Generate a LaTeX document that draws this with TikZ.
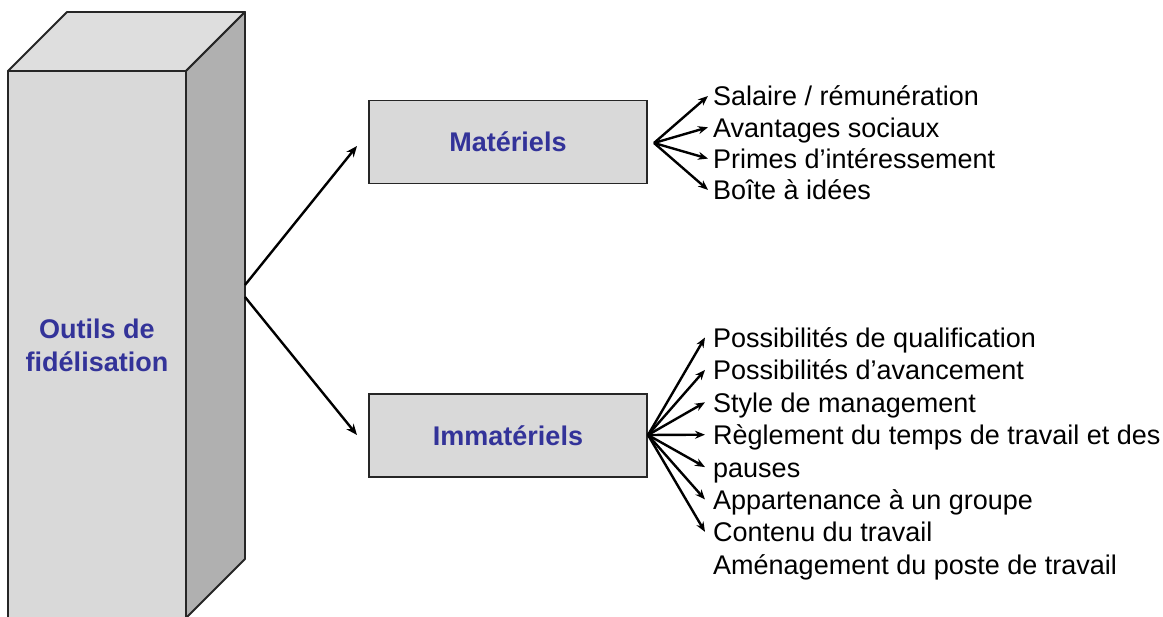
\documentclass[tikz,border=0pt]{standalone}
\usepackage{fontspec}
\setmainfont{Liberation Sans}
\usetikzlibrary{arrows.meta}
\definecolor{titleblue}{RGB}{51,51,153}
\definecolor{facefront}{RGB}{217,217,217}
\definecolor{facetop}{RGB}{222,222,222}
\definecolor{faceside}{RGB}{176,176,176}
\begin{document}
\begin{tikzpicture}[x=1pt,y=-1pt,
  face/.style={draw=black!85,line width=1.8pt,line join=round},
  catbox/.style={draw=black!85,fill=facefront,line width=1.8pt,minimum width=278pt,minimum height=83pt,
    font=\fontsize{27}{32}\selectfont\bfseries,text=titleblue},
  item/.style={anchor=base west,inner sep=0pt,font=\fontsize{27}{32}\selectfont},
  mainarrow/.style={line width=2.4pt,-{Stealth[length=11pt,width=9pt]}},
  fanarrow/.style={line width=2.4pt,-{Stealth[length=10pt,width=8pt]}}]
\useasboundingbox (0,0) rectangle (1163,617);
\clip (0,0) rectangle (1163,617);
% pillar: top, right side and front face
\draw[face,fill=facetop] (8,71) -- (67,12) -- (245,12) -- (186,71) -- cycle;
\draw[face,fill=faceside] (186,71) -- (245,12) -- (245,559) -- (186,618) -- cycle;
\draw[face,fill=facefront] (8,71) rectangle (186,640);
\node[align=center,font=\fontsize{27}{33}\selectfont\bfseries,text=titleblue] (outils) at (97,345) {Outils de\\fidélisation};
\coordinate (outA) at (245,285);
\coordinate (outB) at (245,297);
% the two categories
\node[catbox] (mat) at (508,142) {Matériels};
\node[catbox] (immat) at (508,435.5) {Immatériels};
\draw[mainarrow] (outA) -- (357,146) coordinate (matIn);
\draw[mainarrow] (outB) -- (357,435) coordinate (immatIn);
% material tools
\coordinate (matFan) at (654,143);
\foreach \i/\t [count=\k] in {0/{Salaire / rémunération},1/{Avantages sociaux},2/{Primes d’intéressement},3/{Boîte à idées}}{
  \node[item] (m\k) at (713,106+31.3*\i) {\t};
  \coordinate (mt\k) at (708,96+31.3*\i);
  \draw[fanarrow] (matFan) -- (mt\k);
}
% immaterial tools
\coordinate (immFan) at (648,435);
\foreach \i/\t [count=\k] in {0/{Possibilités de qualification},1/{Possibilités d’avancement},2/{Style de management},3/{Règlement du temps de travail et des},4/{pauses},5/{Appartenance à un groupe},6/{Contenu du travail},7/{Aménagement du poste de travail}}{
  \node[item] (i\k) at (713,347.5+32.4*\i) {\t};
}
\foreach \i [count=\k] in {0,...,6}{
  \coordinate (it\k) at (705,337.5+32.4*\i);
  \draw[fanarrow] (immFan) -- (it\k);
}
\end{tikzpicture}
\end{document}
